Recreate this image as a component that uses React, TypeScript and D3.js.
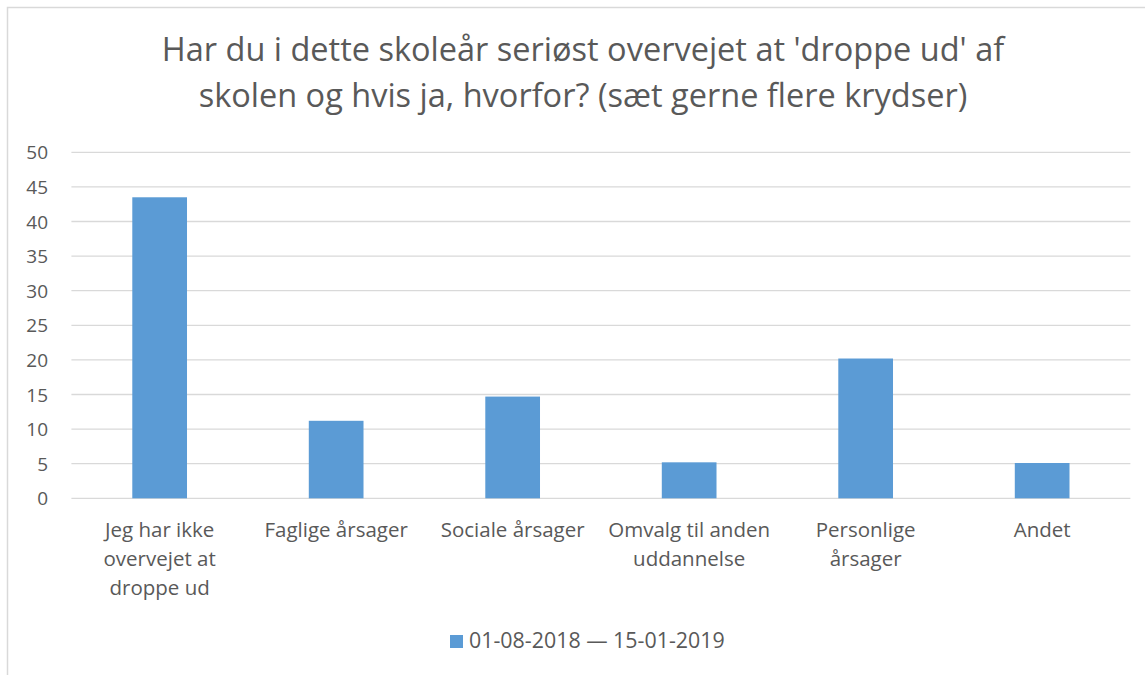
import React from "react";
import * as d3 from "d3";

// Survey answers (share of respondents)
const categories: string[][] = [
  ["Jeg har ikke", "overvejet at", "droppe ud"],
  ["Faglige årsager"],
  ["Sociale årsager"],
  ["Omvalg til anden", "uddannelse"],
  ["Personlige", "årsager"],
  ["Andet"],
];
const values: number[] = [43.5, 11.2, 14.7, 5.2, 20.2, 5.1];
const yTicks: number[] = [0, 5, 10, 15, 20, 25, 30, 35, 40, 45, 50];
const titleLines: string[] = [
  "Har du i dette skoleår seriøst overvejet at 'droppe ud' af",
  "skolen og hvis ja, hvorfor? (sæt gerne flere krydser)",
];
const seriesName = "01-08-2018 — 15-01-2019";

const W = 1145;
const H = 675;
const plot = { left: 71.4, right: 1130.4, top: 152.3, bottom: 498.3 };
const TEXT = "#595959";
const GRID = "#D9D9D9";
const BAR = "#5B9BD5";
const FONT = "'Open Sans', 'Noto Sans', sans-serif";

export default function App() {
  const x = d3
    .scaleBand<number>()
    .domain(d3.range(values.length))
    .range([plot.left, plot.right])
    .paddingInner(0.69)
    .paddingOuter(0.345);
  const y = d3.scaleLinear().domain([0, 50]).range([plot.bottom, plot.top]);

  return (
    <svg
      width={W}
      height={H}
      style={{ position: "absolute", left: 0, top: 0, background: "#fff" }}
      fontFamily={FONT}
    >
      {/* chart frame */}
      <path d={`M7.5,${H} V7.5 H${W}`} fill="none" stroke={GRID} strokeWidth={1.5} />

      {/* title */}
      {titleLines.map((t, i) => (
        <text
          key={i}
          x={583}
          y={61 + i * 46}
          textAnchor="middle"
          fontSize={32.5}
          fill={TEXT}
        >
          {t}
        </text>
      ))}

      {/* gridlines and y tick labels */}
      {yTicks.map((v) => (
        <g key={v}>
          <line
            x1={plot.left}
            x2={plot.right}
            y1={y(v)}
            y2={y(v)}
            stroke={GRID}
            strokeWidth={1.3}
          />
          <text
            x={48}
            y={y(v) + 7}
            textAnchor="end"
            fontSize={19}
            fill={TEXT}
          >
            {v}
          </text>
        </g>
      ))}

      {/* bars */}
      {values.map((v, i) => (
        <rect
          key={i}
          x={x(i)}
          y={y(v)}
          width={x.bandwidth()}
          height={y(0) - y(v)}
          fill={BAR}
        />
      ))}

      {/* category labels */}
      {categories.map((lines, i) => {
        const cx = (x(i) as number) + x.bandwidth() / 2;
        return (
          <text key={i} x={cx} textAnchor="middle" fontSize={20.5} fill={TEXT}>
            {lines.map((l, j) => (
              <tspan key={j} x={cx} y={537 + j * 29}>
                {l}
              </tspan>
            ))}
          </text>
        );
      })}

      {/* legend */}
      <rect x={450} y={635} width={13} height={13} fill={BAR} />
      <text x={469} y={647.5} fontSize={21.4} fill={TEXT}>
        {seriesName}
      </text>
    </svg>
  );
}
